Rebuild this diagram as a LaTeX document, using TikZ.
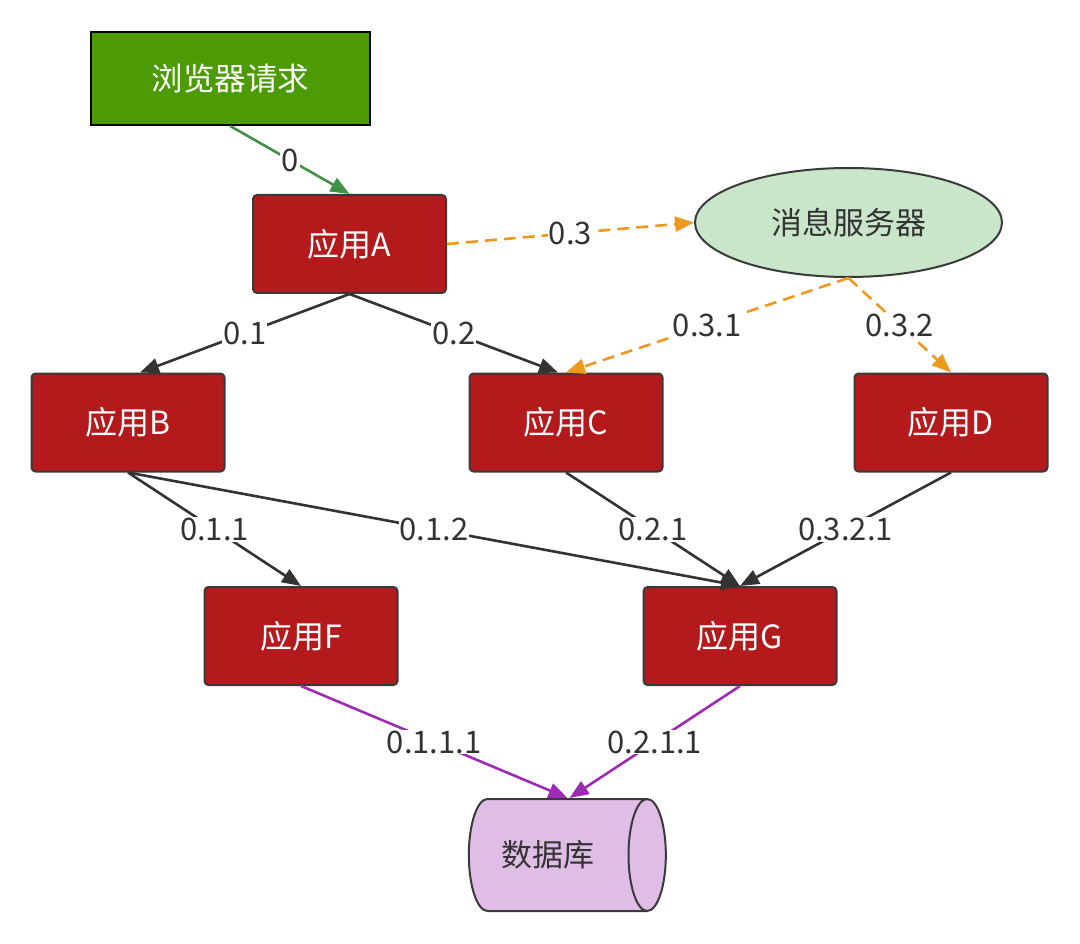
\documentclass[tikz,border=0pt]{standalone}
\usepackage{fontspec}
\setmainfont{Noto Sans CJK SC}
\usetikzlibrary{shapes.geometric,arrows.meta}
\definecolor{appred}{HTML}{B41A1C}
\definecolor{bordergray}{HTML}{3A3A3A}
\definecolor{browsergreen}{HTML}{4C9A04}
\definecolor{edgegreen}{HTML}{3F9145}
\definecolor{edgeorange}{HTML}{F0981E}
\definecolor{edgepurple}{HTML}{9E2BB3}
\definecolor{edgedark}{HTML}{333333}
\definecolor{ellgreen}{HTML}{C9E6CA}
\definecolor{dblilac}{HTML}{E0BDE6}
\definecolor{textdark}{HTML}{333333}
\begin{document}
\begin{tikzpicture}[x=1pt,y=-1pt,
  appbox/.style={draw=bordergray,line width=2pt,fill=appred,rounded corners=4pt,
    minimum width=193pt,minimum height=98pt,text=white,font=\fontsize{32}{36}\selectfont,inner sep=0pt},
  conn/.style={line width=2.6pt,-{Triangle[length=19pt,width=15pt]}},
  lbl/.style={fill=white,inner sep=1pt,text=textdark,font=\fontsize{31}{36}\selectfont}]
\useasboundingbox (0,0) rectangle (1080,944);
\node[draw=black,line width=2.4pt,fill=browsergreen,minimum width=279pt,minimum height=93pt,
  text=white,font=\fontsize{31.5}{36}\selectfont,inner sep=0pt] (br) at (230.5,78.5) {浏览器请求};
\node[appbox] (A) at (349.5,244) {应用A};
\node[appbox] (B) at (128,422.5) {应用B};
\node[appbox] (C) at (566,422.5) {应用C};
\node[appbox] (D) at (951,422.5) {应用D};
\node[appbox] (F) at (301,636) {应用F};
\node[appbox] (G) at (740,636) {应用G};
\node[ellipse,draw=bordergray,line width=2pt,fill=ellgreen,minimum width=307pt,minimum height=109pt,
  text=textdark,font=\fontsize{31}{36}\selectfont,inner sep=0pt] (M) at (848.5,222.5) {消息服务器};
\node[cylinder,draw=bordergray,line width=2pt,fill=dblilac,minimum width=112pt,minimum height=197pt,
  aspect=1.3,shape border rotate=0,text=textdark,font=\fontsize{31}{36}\selectfont,inner sep=0pt] (DB) at (557.5,855) {\hspace*{-20pt}数据库};
\draw[conn,edgegreen] (br.south) -- node[lbl,pos=0.5]{0} (A.north);
\draw[conn,edgeorange,dash pattern=on 12pt off 7pt] (A.east) -- node[lbl,pos=0.5]{0.3} (M.west);
\draw[conn,edgedark] (A.south) -- node[lbl,pos=0.5]{0.1} ([xshift=12pt]B.north);
\draw[conn,edgedark] (A.south) -- node[lbl,pos=0.5]{0.2} ([xshift=-8pt]C.north);
\draw[conn,edgeorange,dash pattern=on 12pt off 7pt] (M.south) -- node[lbl,pos=0.5]{0.3.1} (C.north);
\draw[conn,edgeorange,dash pattern=on 12pt off 7pt] (M.south) -- node[lbl,pos=0.5]{0.3.2} (D.north);
\draw[conn,edgedark] (B.south) -- node[lbl,pos=0.5]{0.1.1} (F.north);
\draw[conn,edgedark] (B.south) -- node[lbl,pos=0.5]{0.1.2} (G.north);
\draw[conn,edgedark] (C.south) -- node[lbl,pos=0.5]{0.2.1} (G.north);
\draw[conn,edgedark] (D.south) -- node[lbl,pos=0.5]{0.3.2.1} (G.north);
\draw[conn,edgepurple] (F.south) -- node[lbl,pos=0.5]{0.1.1.1} ([xshift=10pt]DB.north);
\draw[conn,edgepurple] (G.south) -- node[lbl,pos=0.5]{0.2.1.1} ([xshift=12pt]DB.north);
\end{tikzpicture}
\end{document}
